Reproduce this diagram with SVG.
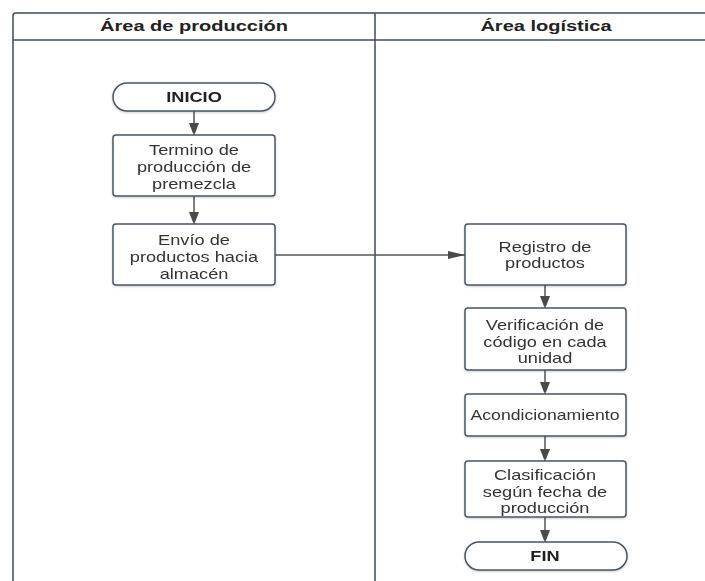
<svg xmlns="http://www.w3.org/2000/svg" width="705" height="581" viewBox="0 0 705 581">
<style>
.lane{fill:none;stroke:#3f4a57;stroke-width:1.5}
.box{fill:#fff;stroke:#4a5563;stroke-width:1.5}
.t{font-family:"Liberation Sans",Arial,sans-serif;font-size:14px;fill:#333;text-anchor:middle}
.b{font-family:"Liberation Sans",Arial,sans-serif;font-size:14px;font-weight:bold;fill:#222;text-anchor:middle}
.h{font-family:"Liberation Sans",Arial,sans-serif;font-size:14.5px;font-weight:bold;fill:#222;text-anchor:middle}
.c{fill:none;stroke:#555;stroke-width:1.5}
</style>
<defs>
<marker id="ah" markerWidth="10" markerHeight="13" refX="12" refY="5" orient="auto" markerUnits="userSpaceOnUse">
<path d="M0,0 L13,5 L0,10 Z" fill="#4a4a4a"/>
</marker>
<marker id="ahh" markerWidth="17" markerHeight="8" refX="17" refY="4" orient="auto" markerUnits="userSpaceOnUse">
<path d="M0,0 L17,4 L0,8 Z" fill="#4a4a4a"/>
</marker>
<filter id="sh" x="-10%" y="-10%" width="120%" height="130%">
<feDropShadow dx="0" dy="1" stdDeviation="1" flood-color="#000" flood-opacity="0.2"/>
</filter>
</defs>
<rect width="705" height="581" fill="#fff"/>
<g id="lanes">
<path class="lane" d="M13,581 V16 Q13,13 16,13 H705"/>
<line class="lane" x1="13" y1="40" x2="705" y2="40"/>
<line class="lane" x1="375" y1="13" x2="375" y2="581"/>
<text class="h" transform="translate(194,31) scale(1.38,1)">Área de producción</text>
<text class="h" transform="translate(546,31) scale(1.38,1)">Área logística</text>
</g>
<g id="connectors">
<line class="c" x1="194" y1="111" x2="194" y2="135" marker-end="url(#ah)"/>
<line class="c" x1="194" y1="196" x2="194" y2="224" marker-end="url(#ah)"/>
<line class="c" x1="275" y1="255" x2="465" y2="255" marker-end="url(#ahh)"/>
<line class="c" x1="545" y1="285" x2="545" y2="308" marker-end="url(#ah)"/>
<line class="c" x1="545" y1="370" x2="545" y2="394" marker-end="url(#ah)"/>
<line class="c" x1="545" y1="436" x2="545" y2="461" marker-end="url(#ah)"/>
<line class="c" x1="545" y1="517" x2="545" y2="542" marker-end="url(#ah)"/>
</g>
<g id="inicio" filter="url(#sh)">
<rect class="box" x="113" y="83" width="162" height="28" rx="14" ry="14"/>
<text class="b" transform="translate(194,102) scale(1.3,1)">INICIO</text>
</g>
<g id="termino" filter="url(#sh)">
<rect class="box" x="113" y="135" width="162" height="61" rx="3"/>
<text class="t" transform="translate(194,155) scale(1.3,1)">Termino de</text>
<text class="t" transform="translate(194,172) scale(1.3,1)">producción de</text>
<text class="t" transform="translate(194,189) scale(1.3,1)">premezcla</text>
</g>
<g id="envio" filter="url(#sh)">
<rect class="box" x="113" y="224" width="162" height="61" rx="3"/>
<text class="t" transform="translate(194,245) scale(1.3,1)">Envío de</text>
<text class="t" transform="translate(194,262) scale(1.3,1)">productos hacia</text>
<text class="t" transform="translate(194,279) scale(1.3,1)">almacén</text>
</g>
<g id="registro" filter="url(#sh)">
<rect class="box" x="465" y="224" width="161" height="61" rx="3"/>
<text class="t" transform="translate(545,252) scale(1.3,1)">Registro de</text>
<text class="t" transform="translate(545,268) scale(1.3,1)">productos</text>
</g>
<g id="verificacion" filter="url(#sh)">
<rect class="box" x="465" y="308" width="161" height="62" rx="3"/>
<text class="t" transform="translate(545,330) scale(1.3,1)">Verificación de</text>
<text class="t" transform="translate(545,347) scale(1.3,1)">código en cada</text>
<text class="t" transform="translate(545,363) scale(1.3,1)">unidad</text>
</g>
<g id="acondicionamiento" filter="url(#sh)">
<rect class="box" x="465" y="394" width="161" height="42" rx="3"/>
<text class="t" transform="translate(545,420) scale(1.26,1)">Acondicionamiento</text>
</g>
<g id="clasificacion" filter="url(#sh)">
<rect class="box" x="465" y="461" width="161" height="56" rx="3"/>
<text class="t" transform="translate(545,480) scale(1.3,1)">Clasificación</text>
<text class="t" transform="translate(545,497) scale(1.3,1)">según fecha de</text>
<text class="t" transform="translate(545,513) scale(1.3,1)">producción</text>
</g>
<g id="fin" filter="url(#sh)">
<rect class="box" x="465" y="542" width="162" height="28" rx="14" ry="14"/>
<text class="b" transform="translate(545,561) scale(1.3,1)">FIN</text>
</g>
</svg>
